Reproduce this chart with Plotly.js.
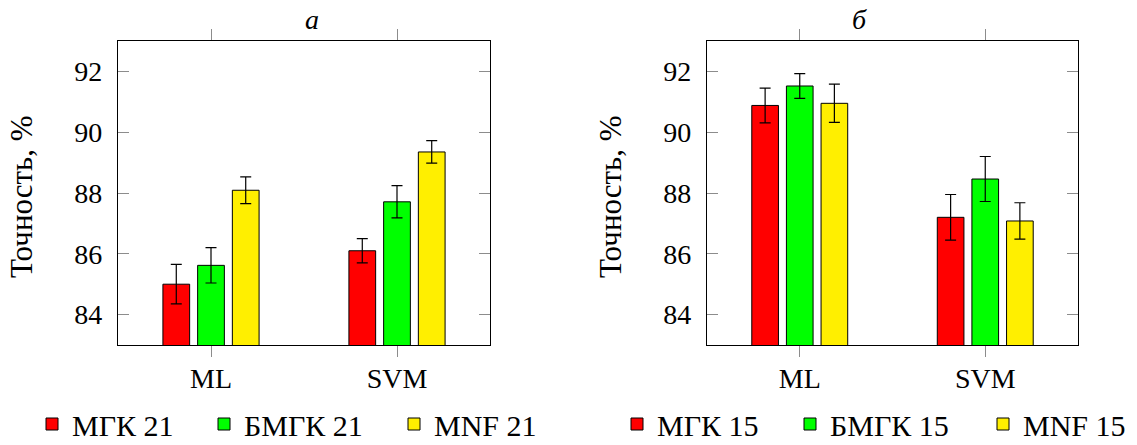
<!DOCTYPE html>
<html>
<head>
<meta charset="utf-8">
<script src="https://cdn.plot.ly/plotly-3.0.1.min.js"></script>
<style>html,body{margin:0;padding:0;background:#fff;}#chart{width:1137px;height:445px;}</style>
</head>
<body>
<div id="chart"></div>
<script>
const categories = ['ML', 'SVM'];
const seriesNamesA = ['МГК 21', 'БМГК 21', 'MNF 21'];
const seriesNamesB = ['МГК 15', 'БМГК 15', 'MNF 15'];
const valuesA = [[85.0, 86.1], [85.62, 87.71], [88.09, 89.35]];
const errorsA = [[0.65, 0.4], [0.58, 0.53], [0.44, 0.37]];
const valuesB = [[90.88, 87.2], [91.52, 88.46], [90.95, 87.08]];
const errorsB = [[0.57, 0.75], [0.41, 0.74], [0.63, 0.6]];
const colors = ['#ff0000', '#00ff00', '#ffef00'];
const yTickVals = [84, 86, 88, 90, 92];
const panelTitles = ['а', 'б'];
const yTitle = 'Точность, %';

const FONT = 'Liberation Serif';
const W = 1137, H = 445;
const traces = [];
const legendTextX = [[72, 244, 434], [657, 830, 1023]];
const legends = {};
function addTraces(names, vals, errs, xa, ya, panel) {
  for (let i = 0; i < names.length; i++) {
    const idx = panel * 3 + i + 1;
    const key = idx === 1 ? 'legend' : 'legend' + idx;
    traces.push({
      type: 'bar', name: names[i], x: categories, y: vals[i],
      xaxis: xa, yaxis: ya, legend: key,
      marker: {color: colors[i], line: {color: '#000', width: 1}},
      error_y: {type: 'data', array: errs[i], visible: true, color: '#000', thickness: 1.2, width: 5.5},
      hoverinfo: 'none'
    });
    legends[key] = {orientation: 'h', yanchor: 'middle', y: 1 - 424/H, xanchor: 'left',
      x: (legendTextX[panel][i] - 40) / W, borderwidth: 0,
      font: {family: FONT, size: 30, color: '#000'}, bgcolor: 'rgba(0,0,0,0)', itemwidth: 30};
  }
}
addTraces(seriesNamesA, valuesA, errorsA, 'x', 'y', 0);
addTraces(seriesNamesB, valuesB, errorsB, 'x2', 'y2', 1);

const yDom = [1 - 345/H, 1 - 41/H];
const xDomA = [118/W, 490/W];
const xDomB = [707/W, 1078/W];
function xAxis(dom, anchor) {
  return {domain: dom, anchor: anchor, type: 'category', range: [-0.5, 1.5],
    showline: true, mirror: 'allticks', linecolor: '#000', linewidth: 1.2,
    ticks: 'outside', ticklen: 11, tickcolor: '#8c8c8c', tickwidth: 1,
    showgrid: false, zeroline: false, fixedrange: true, ticklabelstandoff: -3,
    tickfont: {family: FONT, size: 28, color: '#000'}};
}
function yAxis(dom, anchor) {
  return {domain: dom, anchor: anchor, range: [83, 93], tickvals: yTickVals,
    showline: true, mirror: 'allticks', linecolor: '#000', linewidth: 1.2,
    ticks: 'inside', ticklen: 11, tickcolor: '#8c8c8c', tickwidth: 1,
    showgrid: false, zeroline: false, fixedrange: true, ticklabelstandoff: 9,
    tickfont: {family: FONT, size: 28, color: '#000'}};
}

const layout = Object.assign({
  width: W, height: H, margin: {l: 0, r: 0, t: 0, b: 0, autoexpand: false},
  paper_bgcolor: '#fff', plot_bgcolor: '#fff',
  font: {family: FONT, color: '#000'},
  barmode: 'group', bargap: 0.44, bargroupgap: 0.23,
  showlegend: true,
  xaxis: xAxis(xDomA, 'y'), yaxis: yAxis(yDom, 'x'),
  xaxis2: xAxis(xDomB, 'y2'), yaxis2: yAxis(yDom, 'x2'),
  annotations: [
    {text: '<i>' + panelTitles[0] + '</i>', xref: 'paper', yref: 'paper', x: 312/W, y: 1 - 19/H,
      showarrow: false, font: {family: FONT, size: 28, color: '#000'}, xanchor: 'center', yanchor: 'middle'},
    {text: '<i>' + panelTitles[1] + '</i>', xref: 'paper', yref: 'paper', x: 859/W, y: 1 - 19/H,
      showarrow: false, font: {family: FONT, size: 28, color: '#000'}, xanchor: 'center', yanchor: 'middle'},
    {text: yTitle, xref: 'paper', yref: 'paper', x: 22/W, y: 1 - 197/H, textangle: -90,
      showarrow: false, font: {family: FONT, size: 31, color: '#000'}, xanchor: 'center', yanchor: 'middle'},
    {text: yTitle, xref: 'paper', yref: 'paper', x: 611/W, y: 1 - 197/H, textangle: -90,
      showarrow: false, font: {family: FONT, size: 31, color: '#000'}, xanchor: 'center', yanchor: 'middle'}
  ]
}, legends);
Plotly.newPlot('chart', traces, layout, {displayModeBar: false, staticPlot: true});
</script>
</body>
</html>
